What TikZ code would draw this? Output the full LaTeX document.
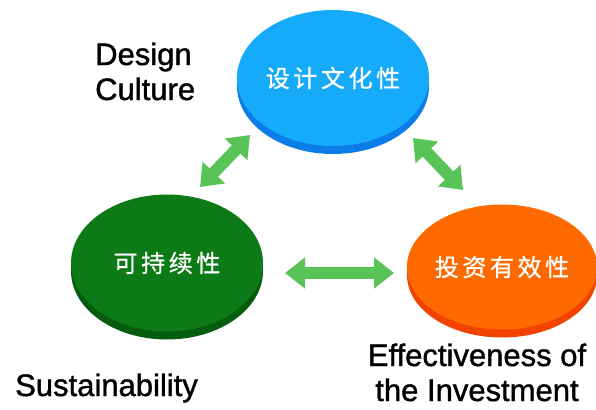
\documentclass[tikz,border=0pt]{standalone}
\usepackage{fontspec}
\setmainfont{Liberation Sans}
\newfontfamily\capfont{Liberation Sans}[BoldFont={Liberation Sans}, BoldFeatures={FakeBold=1.2}]
\newfontfamily\cjk{Noto Sans CJK SC}[LetterSpace=15, BoldFont={Noto Sans CJK SC}, BoldFeatures={FakeBold=0.8, LetterSpace=15}]
\usetikzlibrary{calc,arrows.meta,shapes.geometric,shadows}

\definecolor{bluetop}{RGB}{22,170,250}
\definecolor{bluerim}{RGB}{10,125,232}
\definecolor{greentop}{RGB}{12,122,22}
\definecolor{greenrim}{RGB}{6,92,14}
\definecolor{orangetop}{RGB}{255,106,0}
\definecolor{orangerim}{RGB}{242,68,0}
\definecolor{arrowgreen}{RGB}{88,196,88}

\tikzset{
  disc/.style={ellipse, inner sep=0pt, text=white,
    font=\cjk\bfseries\fontsize{24}{24}\selectfont},
  rim/.style={general shadow={fill=#1, shadow yshift=-8pt}},
  link/.style={line width=12pt, draw=arrowgreen,
    {Triangle[width=30pt,length=20pt]}-{Triangle[width=30pt,length=20pt]}},
  caption/.style={font=\capfont\bfseries\fontsize{31}{35}\selectfont, inner sep=0pt}
}

\begin{document}
\begin{tikzpicture}[x=1pt,y=-1pt]
    \useasboundingbox (0,0) rectangle (596,409);

    % three discs
    \node[disc, fill=bluetop, rim=bluerim, minimum width=192pt, minimum height=136pt] (culture) at (333,78) {设计文化性};
    \node[disc, fill=greentop, rim=greenrim, minimum width=192pt, minimum height=137pt] (sustain) at (167,263) {可持续性};
    \node[disc, fill=orangetop, rim=orangerim, minimum width=187pt, minimum height=125pt] (invest) at (502,267) {投资有效性};

    % arrow ends
    \coordinate (cs1) at (200,187);
    \coordinate (cs2) at (250,135);
    \coordinate (ci1) at (413,138);
    \coordinate (ci2) at (463,190);
    \coordinate (si1) at (285,273);
    \coordinate (si2) at (394,273);

    \foreach \a/\b in {cs1/cs2, ci1/ci2, si1/si2}
    {
        \draw[link] (\a) -- (\b);
    };

    % english labels
    \node[caption, align=left, anchor=base west] (design) at (95,100) {Design\\Culture};
    \node[caption, anchor=base west] (sustlabel) at (15,396) {Sustainability};
    \node[caption, align=center, anchor=base] (investlabel) at (477,401) {Effectiveness of\\the Investment};
\end{tikzpicture}
\end{document}
